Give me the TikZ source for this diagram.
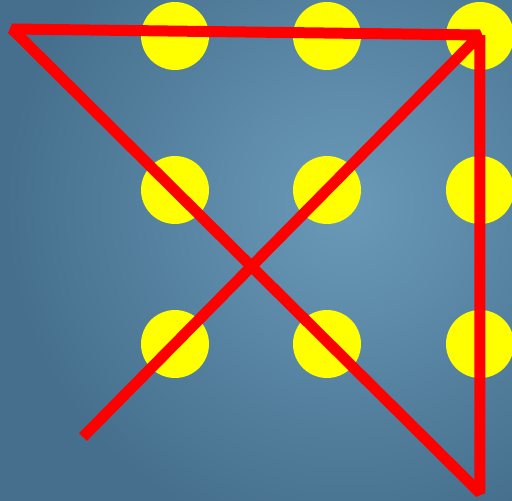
\documentclass[tikz,border=0pt]{standalone}
\usepackage{tikz}

\definecolor{bgouter}{RGB}{69,111,141}
\definecolor{bginner}{RGB}{106,154,184}
\definecolor{dotyellow}{RGB}{255,255,0}
\definecolor{linered}{RGB}{255,0,0}

\begin{document}
\begin{tikzpicture}[
        x=0.02cm, y=-0.02cm,
        dot/.style={circle, fill=dotyellow, minimum size=1.36cm, inner sep=0pt},
        redline/.style={draw=linered, line width=0.22cm, line join=bevel},
    ]
        \useasboundingbox (0,0) rectangle (512,501);
        \fill[bgouter] (0,0) rectangle (512,501);
        \begin{scope}
            \clip (0,0) rectangle (512,501);
            \shade[inner color=bginner, outer color=bgouter] (345,205) circle (340);
        \end{scope}

        % the nine dots
        \node[dot] (d11) at (175,36) {};
        \node[dot] (d12) at (327,36) {};
        \node[dot] (d13) at (480,36) {};
        \node[dot] (d21) at (175,190) {};
        \node[dot] (d22) at (327,190) {};
        \node[dot] (d23) at (480,190) {};
        \node[dot] (d31) at (175,344) {};
        \node[dot] (d32) at (327,344) {};
        \node[dot] (d33) at (480,344) {};

        % turning points of the four strokes
        \coordinate (start) at (83,437);
        \coordinate (topright) at (480,35);
        \coordinate (topleft) at (12,29);
        \coordinate (bottomright) at (480,493);

        \draw[redline] (start) -- (topright) -- (topleft) -- (bottomright) -- (topright);
    \end{tikzpicture}
\end{document}
